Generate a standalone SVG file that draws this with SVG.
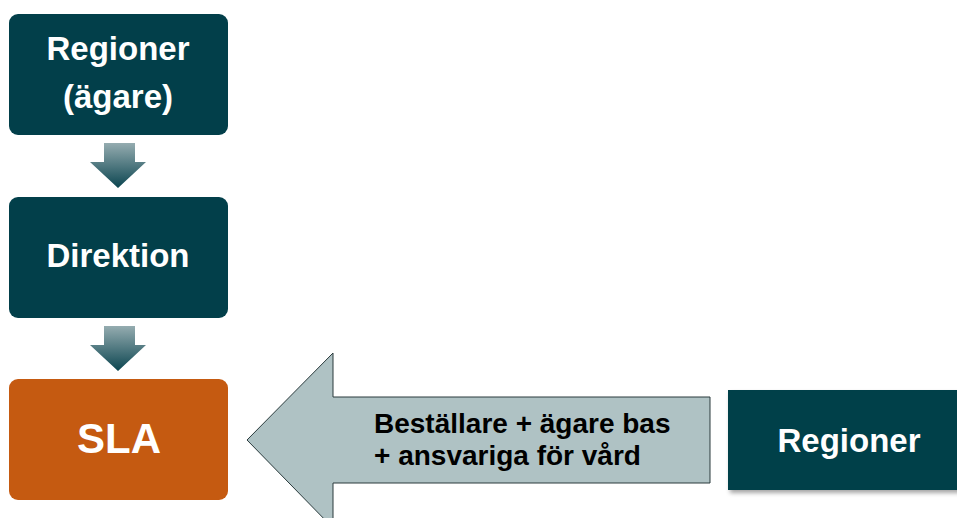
<svg xmlns="http://www.w3.org/2000/svg" width="957" height="518" viewBox="0 0 957 518">
<defs>
<linearGradient id="dg" x1="0" y1="0" x2="0" y2="1">
<stop offset="0" stop-color="#95acb0"/>
<stop offset="1" stop-color="#0b4550"/>
</linearGradient>
<filter id="sh" x="-10%" y="-10%" width="130%" height="130%">
<feDropShadow dx="2" dy="3" stdDeviation="2" flood-color="#000" flood-opacity="0.35"/>
</filter>
<style>
.box{fill:#023f4a;}
.t{font-family:"Liberation Sans",Arial,sans-serif;font-weight:bold;fill:#fff;text-anchor:middle;}
.bt{font-family:"Liberation Sans",Arial,sans-serif;font-weight:bold;fill:#000;font-size:28px;}
</style>
</defs>
<rect width="957" height="518" fill="#fff"/>
<g id="connectors">
<path d="M104,143 H135 V162 H146 L118,188 L90,162 H104 Z" fill="url(#dg)"/>
<path d="M104,326 H135 V345 H146 L118,371 L90,345 H104 Z" fill="url(#dg)"/>
<g id="big-arrow">
<path d="M710,397 V483 H333 V528 L247,440 L333,353 V397 Z" fill="#afc2c4" stroke="#2a3a3c" stroke-width="1"/>
<text class="bt" x="374" y="433">Beställare + ägare bas</text>
<text class="bt" x="374" y="465">+ ansvariga för vård</text>
</g>
</g>
<g id="regioner-agare">
<rect class="box" x="9" y="14" width="219" height="121" rx="9"/>
<text class="t" x="118" y="60" font-size="33">Regioner</text>
<text class="t" x="118" y="108" font-size="33">(ägare)</text>
</g>
<g id="direktion">
<rect class="box" x="9" y="197" width="219" height="121" rx="9"/>
<text class="t" x="118" y="267" font-size="33">Direktion</text>
</g>
<g id="sla">
<rect x="9" y="379" width="219" height="121" rx="9" fill="#c55a11"/>
<text class="t" x="119" y="453" font-size="42">SLA</text>
</g>
<g id="regioner">
<rect class="box" x="728" y="390" width="240" height="100" filter="url(#sh)"/>
<text class="t" x="849" y="452" font-size="33">Regioner</text>
</g>
</svg>
